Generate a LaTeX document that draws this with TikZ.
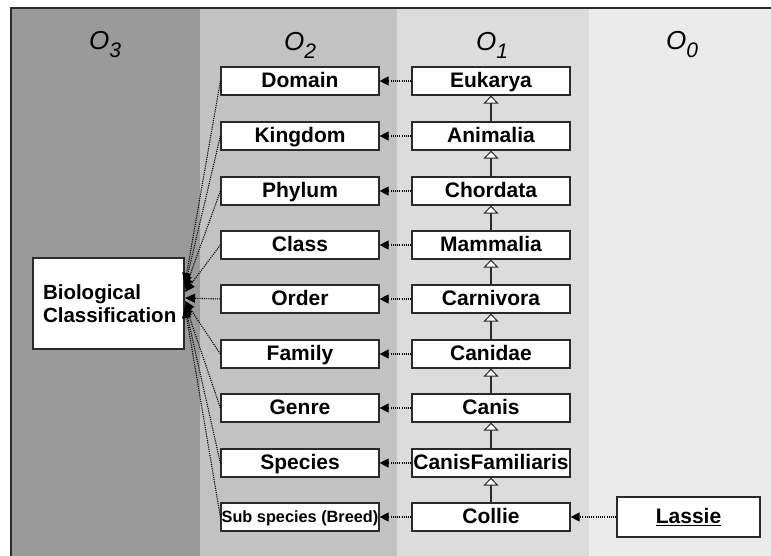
\documentclass[tikz,border=0pt]{standalone}
\usepackage{fontspec}
\setmainfont{Liberation Sans}
\usetikzlibrary{arrows.meta}
\definecolor{cthree}{HTML}{9A9A9A}
\definecolor{ctwo}{HTML}{C2C2C2}
\definecolor{cone}{HTML}{DCDCDC}
\definecolor{czero}{HTML}{EBEBEB}
\definecolor{edge}{HTML}{2A2A2A}
\begin{document}
\begin{tikzpicture}[x=1pt,y=-1pt,
  box/.style={draw=edge, line width=1.2pt, fill=white, minimum width=158pt, minimum height=28pt, inner sep=0pt, text height=16.5pt, text depth=3.5pt, font=\fontsize{21}{24}\selectfont\bfseries},
  realize/.style={draw=black, line width=1.1pt, dash pattern=on 1.1pt off 1.1pt, -{Triangle[length=9pt,width=9pt]}},
  tobio/.style={draw=black, line width=1.1pt, dash pattern=on 1.1pt off 1.1pt, -{Triangle[length=10pt,width=9pt]}},
  gen/.style={draw=edge, line width=1.3pt, -{Triangle[length=8pt,width=15pt,fill=white,line width=1pt]}},
  hdr/.style={font=\fontsize{26}{26}\selectfont\itshape, text=black},
]
\useasboundingbox (0,0) rectangle (771,556);
\fill[white] (0,0) rectangle (771,556);
% columns
\fill[cthree] (11,8) rectangle (200,556);
\fill[ctwo] (200,8) rectangle (397,556);
\fill[cone] (397,8) rectangle (589,556);
\fill[czero] (589,8) rectangle (771,556);
\draw[edge, line width=1.5pt] (11,556) -- (11,8) -- (771,8);
% headers
\node[hdr] (h3) at (105,45) {O\raisebox{-8pt}{\fontsize{21}{21}\selectfont 3}};
\node[hdr] (h2) at (300,45) {O\raisebox{-8pt}{\fontsize{21}{21}\selectfont 2}};
\node[hdr] (h1) at (492,45) {O\raisebox{-8pt}{\fontsize{21}{21}\selectfont 1}};
\node[hdr] (h0) at (682,45) {O\raisebox{-8pt}{\fontsize{21}{21}\selectfont 0}};
% O2 column
\node[box] (domain) at (300,81) {Domain};
\node[box] (kingdom) at (300,136) {Kingdom};
\node[box] (phylum) at (300,191) {Phylum};
\node[box] (class) at (300,245) {Class};
\node[box] (order) at (300,299) {Order};
\node[box] (family) at (300,354) {Family};
\node[box] (genre) at (300,408) {Genre};
\node[box] (species) at (300,463) {Species};
\node[box, font=\fontsize{16.3}{18}\selectfont\bfseries, text height=14pt, text depth=3pt] (subsp) at (300,517) {Sub species (Breed)};
% O1 column
\node[box] (eukarya) at (491,81) {Eukarya};
\node[box] (animalia) at (491,136) {Animalia};
\node[box] (chordata) at (491,191) {Chordata};
\node[box] (mammalia) at (491,245) {Mammalia};
\node[box] (carnivora) at (491,299) {Carnivora};
\node[box] (canidae) at (491,354) {Canidae};
\node[box] (canis) at (491,408) {Canis};
\node[box] (canisf) at (491,463) {CanisFamiliaris};
\node[box] (collie) at (491,517) {Collie};
% O0
\node[box, minimum width=143pt, minimum height=40pt] (lassie) at (688.5,517) {\underline{Lassie}};
% O3
\node[draw=edge, line width=1.2pt, fill=white, minimum width=151pt, minimum height=91pt, text width=131pt, align=left, inner sep=0pt, font=\fontsize{20.5}{23}\selectfont\bfseries] (bio) at (108.5,303.5) {Biological\\Classification};
% coordinates for arrow tips at bio
\coordinate (b0) at (185,283);
\coordinate (b1) at (185,286);
\coordinate (b2) at (185,289);
\coordinate (b3) at (185,292);
\coordinate (b4) at (185,298);
\coordinate (b5) at (185,301);
\coordinate (b6) at (185,304);
\coordinate (b7) at (185,306);
\coordinate (b8) at (185,308);
% to bio
\draw[tobio] (domain.west) -- (b0);
\draw[tobio] (kingdom.west) -- (b1);
\draw[tobio] (phylum.west) -- (b2);
\draw[tobio] (class.west) -- (b3);
\draw[tobio] (order.west) -- (b4);
\draw[tobio] (family.west) -- (b5);
\draw[tobio] (genre.west) -- (b6);
\draw[tobio] (species.west) -- (b7);
\draw[tobio] (subsp.west) -- (b8);
% realization O1 -> O2
\draw[realize] (eukarya.west) -- (domain.east);
\draw[realize] (animalia.west) -- (kingdom.east);
\draw[realize] (chordata.west) -- (phylum.east);
\draw[realize] (mammalia.west) -- (class.east);
\draw[realize] (carnivora.west) -- (order.east);
\draw[realize] (canidae.west) -- (family.east);
\draw[realize] (canis.west) -- (genre.east);
\draw[realize] (canisf.west) -- (species.east);
\draw[realize] (collie.west) -- (subsp.east);
\draw[realize] (lassie.west) -- (collie.east);
% generalization
\draw[gen] (animalia.north) -- (eukarya.south);
\draw[gen] (chordata.north) -- (animalia.south);
\draw[gen] (mammalia.north) -- (chordata.south);
\draw[gen] (carnivora.north) -- (mammalia.south);
\draw[gen] (canidae.north) -- (carnivora.south);
\draw[gen] (canis.north) -- (canidae.south);
\draw[gen] (canisf.north) -- (canis.south);
\draw[gen] (collie.north) -- (canisf.south);
\end{tikzpicture}
\end{document}
